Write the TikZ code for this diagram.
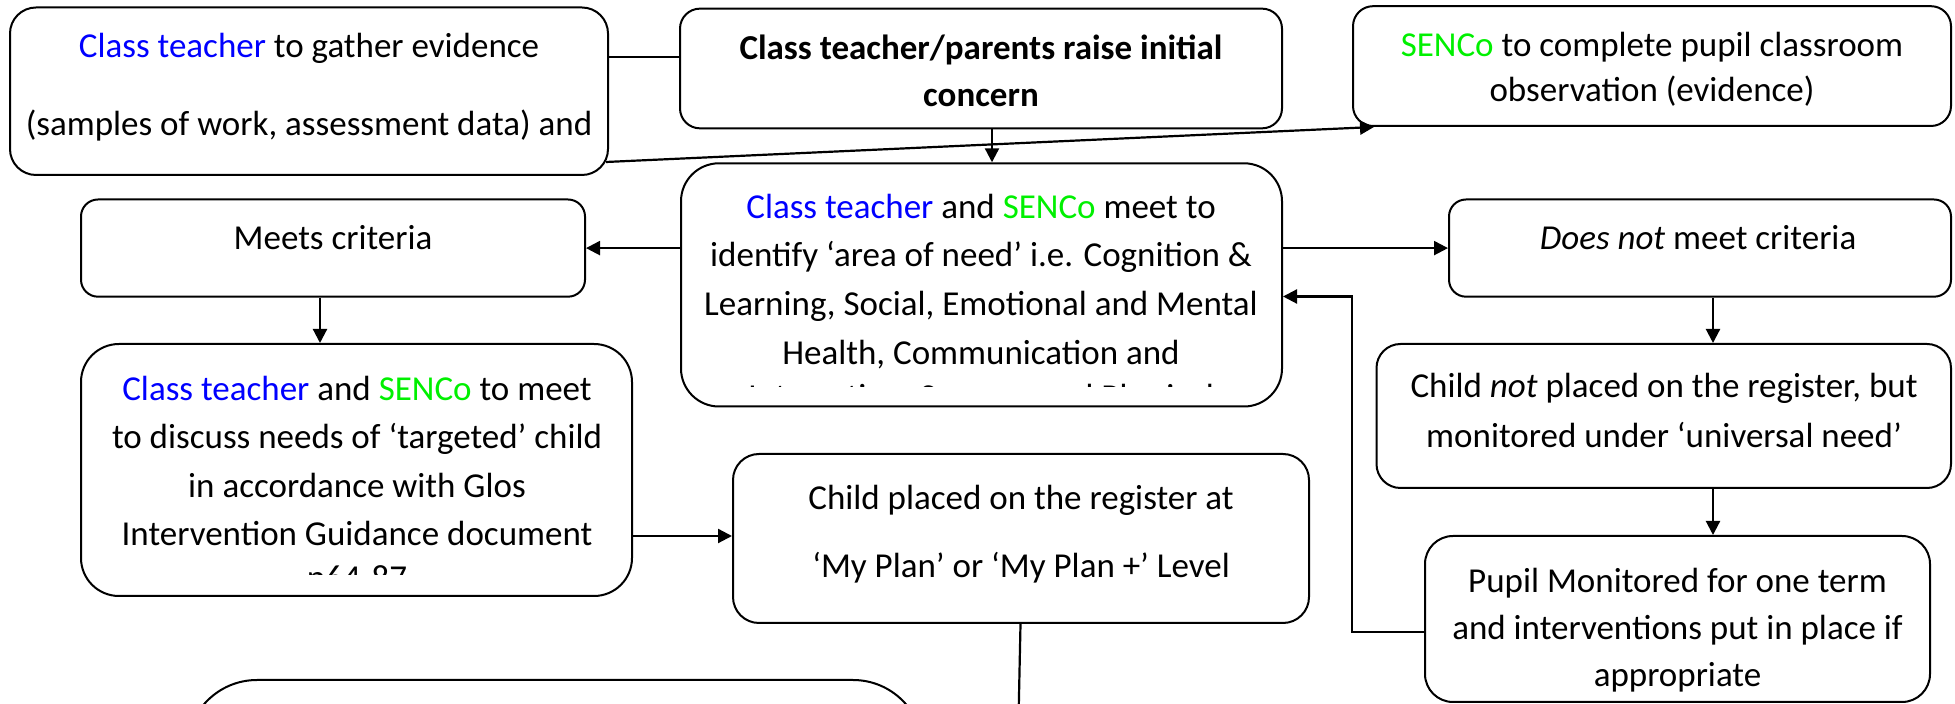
\documentclass[tikz,border=0pt]{standalone}
\usepackage{fontspec}
\setmainfont{Carlito}
\usetikzlibrary{arrows.meta}
\definecolor{tblue}{RGB}{0,0,255}
\definecolor{tgreen}{RGB}{0,240,0}
\begin{document}
\begin{tikzpicture}[x=0.5pt,y=-0.5pt,
  box/.style={draw=black, line width=1pt, fill=white, inner sep=0pt},
  txt/.style={inner sep=0pt, align=center, font=\fontsize{17.5pt}{24.3pt}\selectfont},
  arr/.style={line width=1.1pt, -{Triangle[length=7pt,width=7pt]}},
  ln/.style={line width=1.1pt}]
\clip (0,0) rectangle (1955,704);
% boxes
\node[box, minimum width=299pt, minimum height=83.75pt, rounded corners=13pt] (A) at (309,91.25) {};
\node[box, minimum width=301pt, minimum height=59.85pt, rounded corners=10pt] (B) at (981,68.5) {};
\node[box, minimum width=299pt, minimum height=59.9pt, rounded corners=10pt] (C) at (1652,66.1) {};
\node[box, minimum width=252pt, minimum height=48.6pt, rounded corners=8.5pt] (D) at (333,248.1) {};
\node[box, minimum width=300.5pt, minimum height=121.6pt, rounded corners=19pt] (E) at (981.5,284.9) {};
\node[box, minimum width=251pt, minimum height=48.6pt, rounded corners=8.5pt] (F) at (1700,248.1) {};
\node[box, minimum width=275.5pt, minimum height=126pt, rounded corners=19pt] (G) at (356.5,470) {};
\node[box, minimum width=287.25pt, minimum height=72pt, rounded corners=12pt] (H) at (1663.75,416) {};
\node[box, minimum width=288pt, minimum height=84.5pt, rounded corners=13pt] (I) at (1021,538.5) {};
\node[box, minimum width=252.5pt, minimum height=83pt, rounded corners=14pt] (J) at (1677.5,619) {};
\node[box, minimum width=368pt, minimum height=160pt, rounded corners=35pt] (K) at (555,840) {};
% texts
\node[txt, font=\fontsize{17.5pt}{39pt}\selectfont] (tA) at (309,87.5) {{\color{tblue}Class teacher} to gather evidence\\(samples of work, assessment data) and};
\node[txt, font=\fontsize{17.5pt}{23.7pt}\selectfont\bfseries] (tB) at (981,71.1) {Class teacher/parents raise initial\\concern};
\node[txt, font=\fontsize{17.5pt}{22.5pt}\selectfont] (tC) at (1652,69) {{\color{tgreen}SENCo} to complete pupil classroom\\observation (evidence)};
\node[txt] (tD) at (333,237.5) {Meets criteria};
\node[txt] (tE) at (981,281.2) {{\color{tblue}Class teacher} and {\color{tgreen}SENCo} meet to\\identify ‘area of need’ i.e. Cognition \&\\Learning, Social, Emotional and Mental\\Health, Communication and};
\node[txt] (tF) at (1698,237.5) {\textit{Does not} meet criteria};
\node[txt] (tG) at (357,461) {{\color{tblue}Class teacher} and {\color{tgreen}SENCo} to meet\\to discuss needs of ‘targeted’ child\\in accordance with Glos\\Intervention Guidance document};
\node[txt, font=\fontsize{17.5pt}{24.9pt}\selectfont] (tH) at (1664,410.2) {Child \textit{not} placed on the register, but\\monitored under ‘universal need’};
\node[txt, font=\fontsize{17.5pt}{34.25pt}\selectfont] (tI) at (1021,534.3) {Child placed on the register at\\‘My Plan’ or ‘My Plan +’ Level};
\node[txt, font=\fontsize{17.5pt}{23.4pt}\selectfont] (tJ) at (1677.5,630) {Pupil Monitored for one term\\and interventions put in place if\\appropriate};
\begin{scope}
\clip (681,300) rectangle (1282,387);
\node[txt, anchor=base] (tE5) at (981,409) {Interaction, Sensory and Physical};
\end{scope}
\begin{scope}
\clip (81,500) rectangle (632,575);
\node[txt, anchor=base] (tG5) at (357,590) {p64-87};
\end{scope}
% connectors
\coordinate (ab) at (0,57);
\draw[ln] (A.east |- ab) -- (B.west |- ab);
\coordinate (as) at (606,162);
\draw[arr] (as) -- ([xshift=11pt]C.south west);
\draw[arr] ([xshift=5.5pt]B.south) -- ([xshift=5.5pt]B.south |- E.north);
\draw[arr] (E.west |- D.east) -- (D.east);
\draw[arr] (E.east |- F.west) -- (F.west);
\draw[arr] ([xshift=-6.5pt]D.south) -- ([xshift=-6.5pt]D.south |- G.north);
\coordinate (v) at (1713,0);
\draw[arr] (F.south -| v) -- (H.north -| v);
\draw[arr] (H.south -| v) -- (J.north -| v);
\coordinate (r1) at (1352,632);
\coordinate (r2) at (1352,296.5);
\draw[arr] (J.west |- r1) -- (r1) -- (r2) -- (E.east |- r2);
\coordinate (gi) at (0,536);
\draw[arr] (G.east |- gi) -- (I.west |- gi);
\coordinate (iend) at (1018.5,720);
\draw[ln] ([xshift=-0.25pt]I.south) -- (iend);
\end{tikzpicture}
\end{document}
